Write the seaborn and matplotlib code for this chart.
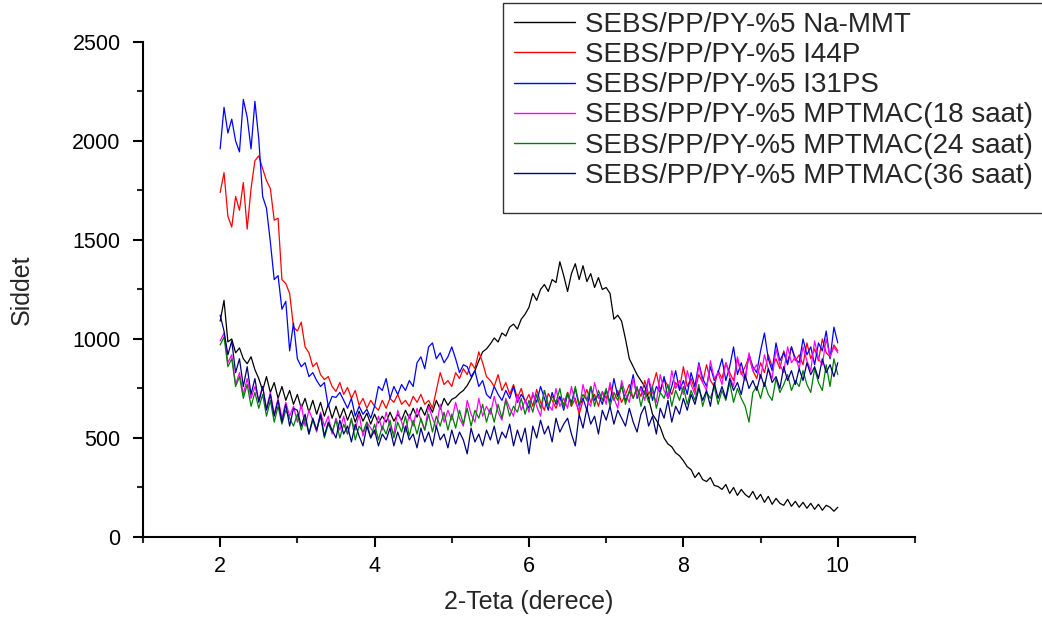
import numpy as np
import pandas as pd
import matplotlib
matplotlib.use("Agg")
import matplotlib.pyplot as plt
from matplotlib.patches import Rectangle
import seaborn as sns

# 2-theta grid of the scans (degrees)
two_theta = np.linspace(2.0, 10.0, 161)

series_names = [
    "SEBS/PP/PY-%5 Na-MMT",
    "SEBS/PP/PY-%5 I44P",
    "SEBS/PP/PY-%5 I31PS",
    "SEBS/PP/PY-%5 MPTMAC(18 saat)",
    "SEBS/PP/PY-%5 MPTMAC(24 saat)",
    "SEBS/PP/PY-%5 MPTMAC(36 saat)",
]
series_colors = ["#000000", "#ff0000", "#0000ff", "#ff00ff", "#008000", "#000080"]

na_mmt = [
    1090, 1195, 985, 1000, 930, 955, 900, 875, 910, 845,
    800, 740, 810, 730, 780, 700, 760, 690, 740, 670,
    720, 650, 700, 630, 690, 620, 680, 610, 670, 600,
    660, 600, 650, 590, 640, 580, 635, 585, 625, 570,
    620, 575, 610, 580, 630, 585, 620, 590, 640, 600,
    650, 605, 655, 615, 670, 630, 690, 645, 700, 665,
    695, 705, 725, 740, 765, 800, 840, 890, 935, 950,
    975, 1005, 985, 1030, 1015, 1060, 1075, 1050, 1100, 1125,
    1160, 1230, 1195, 1250, 1275, 1240, 1300, 1285, 1390, 1320,
    1240, 1330, 1380, 1300, 1370, 1290, 1330, 1260, 1310, 1250,
    1260, 1230, 1100, 1120, 1090, 1000, 900, 860, 820, 790,
    760, 700, 620, 590, 555, 500, 470, 455, 425, 410,
    385, 355, 340, 300, 325, 290, 280, 300, 260, 255,
    240, 265, 220, 250, 210, 240, 215, 200, 230, 190,
    215, 175, 205, 165, 195, 170, 160, 190, 155, 180,
    150, 175, 145, 170, 140, 165, 135, 160, 150, 130,
    150,
]

i44p = [
    1740, 1840, 1620, 1565, 1720, 1650, 1790, 1555, 1760, 1900,
    1925, 1860, 1800, 1760, 1600, 1610, 1300, 1280, 1230, 1060,
    1040, 1085, 960, 930, 860, 880, 820, 795, 810, 760,
    735, 780, 720, 755, 700, 740, 665, 700, 650, 690,
    660, 640, 690, 650, 700, 680, 720, 670, 690, 660,
    710, 680, 720, 670, 690, 650, 740, 830, 770, 790,
    760, 830, 800, 850, 820, 880, 850, 935, 880, 810,
    790, 760, 820, 740, 780, 720, 770, 700, 750, 680,
    720, 660, 745, 680, 640, 725, 690, 650, 705, 670,
    730, 660, 700, 620, 690, 745, 680, 720, 660, 735,
    700, 760, 690, 740, 680, 720, 770, 700, 750, 710,
    790, 720, 760, 830, 740, 800, 760, 720, 780, 750,
    860, 760, 800, 740, 820, 780, 870, 790, 760, 840,
    800, 880, 830, 790, 900, 820, 860, 910, 840, 800,
    880, 830, 920, 860, 900, 850, 940, 880, 960, 890,
    920, 870, 980, 900, 950, 890, 1000, 930, 910, 970,
    940,
]

i31ps = [
    1960, 2170, 2040, 2110, 2000, 1945, 2210, 2120, 1960, 2200,
    2010, 1720, 1660, 1490, 1300, 1320, 1150, 1190, 940, 1080,
    900, 860, 880, 810, 830, 790, 760, 780, 660, 710,
    705, 730, 690, 650, 700, 610, 660, 620, 645, 600,
    660, 760, 740, 800, 700, 760, 720, 770, 740, 790,
    760, 880, 910, 850, 960, 980, 900, 930, 880, 910,
    960, 900, 830, 870, 860, 810, 840, 760, 790, 720,
    700, 760, 720, 690, 740, 700, 760, 680, 720, 690,
    650, 720, 680, 760, 700, 640, 730, 670, 710, 640,
    720, 680, 750, 660, 700, 640, 760, 690, 720, 670,
    740, 680, 800, 710, 760, 690, 730, 820, 700, 760,
    720, 800, 690, 760, 730, 810, 700, 760, 840, 740,
    790, 720, 830, 760, 880, 800, 760, 860, 790, 830,
    900, 790, 860, 960, 820, 880, 800, 920, 860, 830,
    940, 1030, 900, 840, 980, 890, 930, 870, 960, 900,
    880, 1000, 920, 960, 870, 980, 940, 1040, 900, 1060,
    980,
]

mptmac_18 = [
    990, 1030, 880, 920, 770, 830, 720, 800, 700, 760,
    690, 760, 650, 730, 620, 700, 600, 680, 610, 660,
    580, 670, 560, 640, 590, 530, 630, 560, 610, 520,
    600, 540, 610, 520, 590, 540, 620, 510, 580, 550,
    520, 610, 540, 630, 560, 520, 640, 580, 530, 620,
    560, 650, 590, 540, 660, 600, 550, 670, 580, 640,
    590, 680, 600, 560, 690, 620, 580, 700, 610, 660,
    620, 710, 630, 590, 700, 650, 610, 720, 640, 690,
    630, 730, 660, 610, 740, 670, 640, 750, 660, 700,
    650, 760, 680, 640, 770, 690, 660, 780, 700, 730,
    670, 780, 700, 650, 790, 720, 680, 800, 710, 750,
    690, 800, 730, 680, 820, 740, 700, 840, 750, 790,
    720, 840, 770, 720, 870, 780, 740, 890, 800, 830,
    770, 880, 810, 760, 910, 830, 790, 930, 840, 870,
    800, 920, 850, 800, 950, 870, 830, 960, 880, 910,
    850, 960, 890, 840, 990, 900, 870, 1000, 910, 960,
    930,
]

mptmac_24 = [
    970, 1010, 860, 900, 760, 810, 700, 770, 660, 730,
    650, 720, 610, 690, 580, 660, 570, 640, 600, 560,
    620, 540, 600, 520, 590, 540, 610, 500, 570, 530,
    590, 500, 570, 520, 600, 490, 560, 530, 580, 500,
    570, 490, 560, 520, 590, 500, 580, 530, 610, 510,
    590, 520, 600, 540, 620, 530, 610, 560, 630, 540,
    620, 550, 640, 570, 650, 560, 640, 600, 670, 580,
    650, 580, 670, 600, 690, 610, 660, 630, 700, 620,
    690, 630, 720, 650, 740, 660, 710, 680, 750, 650,
    730, 660, 760, 670, 720, 690, 760, 660, 740, 690,
    750, 660, 730, 690, 770, 670, 740, 700, 760, 660,
    740, 680, 760, 650, 730, 700, 770, 660, 740, 690,
    760, 670, 740, 690, 770, 660, 730, 700, 760, 670,
    740, 690, 780, 680, 750, 700, 660, 580, 730, 760,
    700, 780, 720, 690, 800, 730, 770, 820, 740, 790,
    760, 840, 770, 730, 850, 780, 740, 870, 760, 900,
    820,
]

mptmac_36 = [
    1120, 1040, 920, 990, 830, 900, 760, 860, 720, 800,
    680, 760, 640, 720, 610, 690, 580, 670, 560, 650,
    640, 560, 620, 520, 600, 540, 620, 510, 580, 540,
    500, 590, 520, 560, 480, 570, 510, 460, 560, 500,
    540, 460, 520, 490, 550, 460, 530, 470, 560, 490,
    520, 450, 550, 480, 530, 460, 560, 490, 520, 450,
    540, 470, 530, 490, 420, 550, 480, 520, 460, 540,
    490, 560, 470, 530, 500, 570, 460, 540, 480, 550,
    420, 560, 500, 590, 520, 560, 480, 600, 530, 570,
    600, 520, 460, 620, 550, 650, 570, 610, 520, 640,
    590, 660, 570, 640, 600, 560, 650, 580, 530, 620,
    660, 560, 610, 520, 650, 600, 690, 580, 660, 620,
    700, 640, 720, 670, 750, 690, 740, 660, 780, 700,
    760, 700, 800, 740, 780, 720, 820, 750, 790, 740,
    820, 760, 850, 780, 810, 750, 860, 790, 840, 770,
    850, 790, 880, 820, 860, 800, 900, 830, 870, 810,
    880,
]

intensities = [na_mmt, i44p, i31ps, mptmac_18, mptmac_24, mptmac_36]

frames = []
for name, vals in zip(series_names, intensities):
    frames.append(pd.DataFrame({"2-Teta": two_theta, "Siddet": vals, "Numune": name}))
data = pd.concat(frames, ignore_index=True)

sns.set_style("ticks")
plt.rcParams["font.family"] = ["Liberation Sans", "DejaVu Sans"]

fig = plt.figure(figsize=(10.42, 6.18), dpi=100)
ax = fig.add_axes([0.1372, 0.1311, 0.7409, 0.801])

sns.lineplot(
    data=data, x="2-Teta", y="Siddet", hue="Numune",
    hue_order=series_names, palette=dict(zip(series_names, series_colors)),
    linewidth=0.9, ax=ax, legend=True,
)

ax.set_xlim(1, 11)
ax.set_ylim(0, 2500)
ax.set_xticks([2, 4, 6, 8, 10])
ax.set_xticks([1, 3, 5, 7, 9, 11], minor=True)
ax.set_yticks(np.arange(0, 2501, 500))
ax.set_yticks(np.arange(250, 2500, 500), minor=True)
ax.tick_params(axis="both", which="major", direction="out", length=7, width=1.5,
               labelsize=15.5, colors="black")
ax.tick_params(axis="y", which="major", pad=9)
ax.tick_params(axis="x", which="major", pad=7)
ax.tick_params(axis="both", which="minor", direction="out", length=4, width=1.5)
for side in ("top", "right"):
    ax.spines[side].set_visible(False)
for side in ("left", "bottom"):
    ax.spines[side].set_linewidth(1.5)
    ax.spines[side].set_color("black")

ax.set_xlabel("2-Teta (derece)", fontsize=18, labelpad=9)
ax.set_ylabel("Siddet", fontsize=18, labelpad=28)

handles, labels = ax.get_legend_handles_labels()
for h in handles:
    h.set_linewidth(1.0)
ax.legend(
    handles, labels, loc="upper left",
    bbox_to_anchor=(514 / 1042, 1 - 12 / 618), bbox_transform=fig.transFigure,
    frameon=False, fontsize=20, handlelength=2.2, handletextpad=0.35,
    labelspacing=0.15, borderpad=0.0, borderaxespad=0.0,
)

# legend frame, running off the right edge of the figure
fig.patches.append(Rectangle(
    (503 / 1042, 1 - 213 / 618), 0.6, 210 / 618,
    transform=fig.transFigure, fill=False, edgecolor="#333333", linewidth=1.0,
    zorder=5,
))

fig.savefig("out.png", dpi=100)
